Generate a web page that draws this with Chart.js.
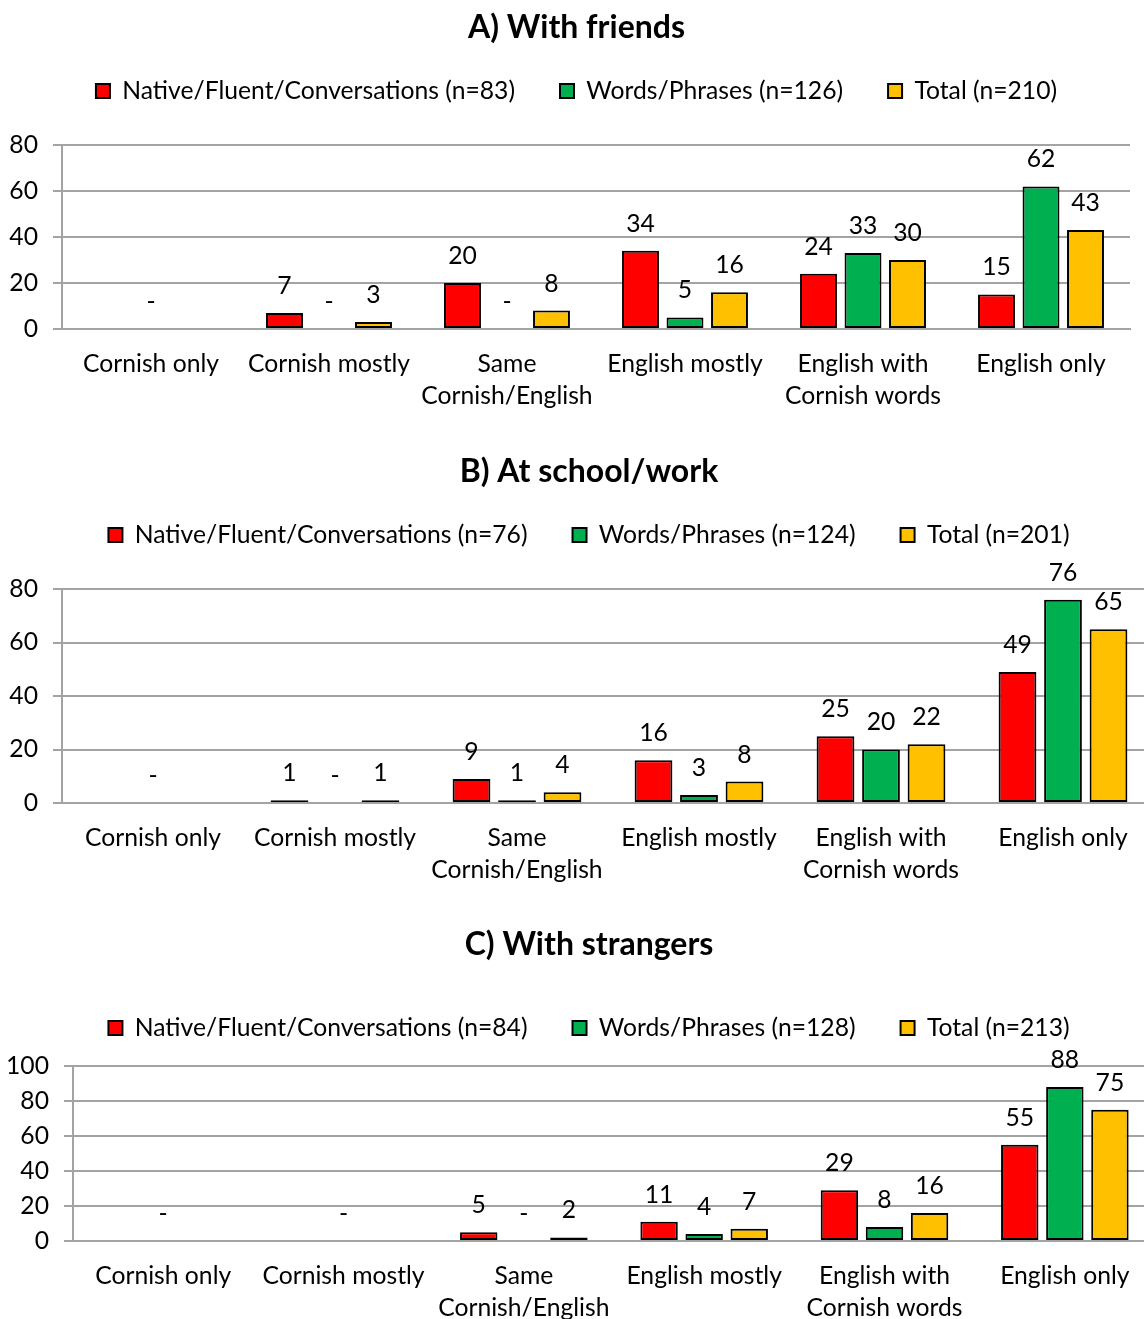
<!DOCTYPE html>
<html>
<head>
<meta charset="utf-8">
<script src="https://cdn.jsdelivr.net/npm/chart.js@4.4.1/dist/chart.umd.min.js"></script>
<style>
  html, body { margin: 0; padding: 0; background: #fff; width: 1144px; height: 1319px; overflow: hidden; }
  canvas { position: absolute; left: 0; display: block; }
</style>
</head>
<body>
<canvas id="chartFriends" width="1163" height="419" style="top:0px"></canvas>
<canvas id="chartSchool" width="1188" height="449" style="top:444px"></canvas>
<canvas id="chartStrangers" width="1188" height="414" style="top:917px"></canvas>
<script>
// ---- data ----
const categories = ['Cornish only', 'Cornish mostly', ['Same', 'Cornish/English'], 'English mostly', ['English with', 'Cornish words'], 'English only'];
const seriesNames = ['Native/Fluent/Conversations', 'Words/Phrases', 'Total'];

const friendsNative = [0, 7, 20, 34, 24, 15];
const friendsWords  = [0, 0, 0, 5, 33, 62];
const friendsTotal  = [0, 3, 8, 16, 30, 43];
const friendsN      = [83, 126, 210];

const schoolNative = [0, 1, 9, 16, 25, 49];
const schoolWords  = [0, 0, 1, 3, 20, 76];
const schoolTotal  = [0, 1, 4, 8, 22, 65];
const schoolN      = [76, 124, 201];

const strangersNative = [0, 0, 5, 11, 29, 55];
const strangersWords  = [0, 0, 0, 4, 8, 88];
const strangersTotal  = [0, 0, 2, 7, 16, 75];
const strangersN      = [84, 128, 213];

const yTicksFriends   = [0, 20, 40, 60, 80];
const yTicksSchool    = [0, 20, 40, 60, 80];
const yTicksStrangers = [0, 20, 40, 60, 80, 100];

// ---- styling ----
const RED = '#FF0000', GREEN = '#00B050', GOLD = '#FFC000';
const GRID = '#a3a3a3';
const FONT = 'Lato, "Liberation Sans", sans-serif';
const TEXT_SIZE = 24.7;
const TITLE_SIZE = 32;
const TITLE_LINE = 11.3;
const LEGEND_PAD = 45;

// value labels above each bar; zero values only get a dash where the series asks for it
const valueLabels = {
  id: 'valueLabels',
  afterDatasetsDraw(chart) {
    const ctx = chart.ctx;
    ctx.save();
    ctx.font = TEXT_SIZE + 'px ' + FONT;
    ctx.fillStyle = '#000';
    ctx.textAlign = 'center';
    ctx.textBaseline = 'middle';
    chart.data.datasets.forEach((ds, i) => {
      const meta = chart.getDatasetMeta(i);
      meta.data.forEach((bar, j) => {
        const v = ds.data[j];
        let txt;
        if (v === 0) {
          if (!ds.zeroMark) return;
          txt = ds.zeroMark;
        } else {
          txt = String(v);
        }
        ctx.fillText(txt, bar.x, bar.y - 27);
      });
    });
    ctx.restore();
  }
};

function makeChart(id, spec) {
  const ds = (name, n, data, color, extra) => Object.assign({
    label: name + ' (n=' + n + ')',
    data: data,
    yAxisID: 'y',
    backgroundColor: color,
    borderColor: '#000',
    borderWidth: 2,
    borderSkipped: false,
    categoryPercentage: 0.75,
    barPercentage: 0.83
  }, extra || {});

  // vertical rhythm: title centre, legend row centre, top of the plot
  const titlePadTop = spec.titleY - TITLE_LINE / 2;
  const legendTop = spec.legendY - TEXT_SIZE / 2 - LEGEND_PAD;
  const titleGap = legendTop - (spec.titleY + TITLE_LINE / 2);
  const legendBottom = legendTop + TEXT_SIZE + LEGEND_PAD + 10;
  const plotGap = spec.plotTop - legendBottom;

  const canvas = document.getElementById(id);
  const width = canvas.width;
  const centre2 = 2 * spec.titleX;          // left edge 0 .. right edge of the full-width boxes
  const padRight = width - centre2;
  const rightGap = centre2 - spec.plotRight;

  const ticks = spec.yTicks;
  return new Chart(canvas, {
    type: 'bar',
    data: {
      labels: categories,
      datasets: [
        ds(seriesNames[0], spec.n[0], spec.native, RED),
        ds(seriesNames[1], spec.n[1], spec.words, GREEN, { zeroMark: '-' }),
        ds(seriesNames[2], spec.n[2], spec.total, GOLD)
      ]
    },
    plugins: [valueLabels],
    options: {
      responsive: false,
      animation: false,
      events: [],
      layout: { padding: { left: 0, right: padRight, top: 0, bottom: 0 } },
      plugins: {
        tooltip: { enabled: false },
        title: {
          display: true,
          text: spec.title,
          color: '#000',
          font: { family: FONT, size: TITLE_SIZE, weight: 'bold', lineHeight: TITLE_LINE / TITLE_SIZE },
          padding: { top: titlePadTop, bottom: titleGap }
        },
        subtitle: {
          display: true,
          text: '',
          weight: 500,
          font: { size: 1, lineHeight: 1 },
          padding: { top: 0, bottom: plotGap - 1 }
        },
        legend: {
          position: 'top',
          labels: {
            color: '#000',
            font: { family: FONT, size: TEXT_SIZE },
            boxWidth: 14,
            boxHeight: 14,
            padding: LEGEND_PAD
          }
        }
      },
      scales: {
        x: {
          grid: { display: false, drawTicks: false, tickLength: 0 },
          border: { display: true, color: GRID, width: 2 },
          ticks: {
            color: '#000',
            font: { family: FONT, size: TEXT_SIZE, lineHeight: 32 / TEXT_SIZE },
            padding: 19,
            maxRotation: 0,
            autoSkip: false
          },
          afterFit(scale) { scale.height = 90; }
        },
        y: {
          position: 'left',
          min: ticks[0],
          max: ticks[ticks.length - 1],
          grid: { color: GRID, lineWidth: 2, drawTicks: true, tickLength: 9, tickColor: GRID },
          border: { display: true, color: GRID, width: 2 },
          ticks: {
            stepSize: ticks[1] - ticks[0],
            color: '#000',
            font: { family: FONT, size: TEXT_SIZE },
            padding: 15
          },
          afterFit(scale) { scale.width = spec.plotLeft; }
        },
        // empty margin on the right of the plot
        yMargin: {
          type: 'linear',
          axis: 'y',
          position: 'right',
          grid: { display: false, drawTicks: false },
          border: { display: false },
          ticks: { display: false },
          afterFit(scale) { scale.width = rightGap; }
        }
      }
    }
  });
}

function drawAll() {
  makeChart('chartFriends', {
    title: 'A) With friends',
    n: friendsN, native: friendsNative, words: friendsWords, total: friendsTotal,
    yTicks: yTicksFriends,
    titleX: 576.5, titleY: 28, legendY: 91, plotTop: 145, plotLeft: 62, plotRight: 1130
  });
  makeChart('chartSchool', {
    title: 'B) At school/work',
    n: schoolN, native: schoolNative, words: schoolWords, total: schoolTotal,
    yTicks: yTicksSchool,
    titleX: 589, titleY: 28, legendY: 91, plotTop: 145, plotLeft: 62, plotRight: 1154
  });
  makeChart('chartStrangers', {
    title: 'C) With strangers',
    n: strangersN, native: strangersNative, words: strangersWords, total: strangersTotal,
    yTicks: yTicksStrangers,
    titleX: 589, titleY: 28, legendY: 111, plotTop: 149, plotLeft: 73, plotRight: 1155
  });
}

if (document.fonts && document.fonts.load) {
  Promise.all([
    document.fonts.load(TEXT_SIZE + 'px Lato'),
    document.fonts.load('bold ' + TITLE_SIZE + 'px Lato')
  ]).then(drawAll, drawAll);
} else {
  drawAll();
}
</script>
</body>
</html>
